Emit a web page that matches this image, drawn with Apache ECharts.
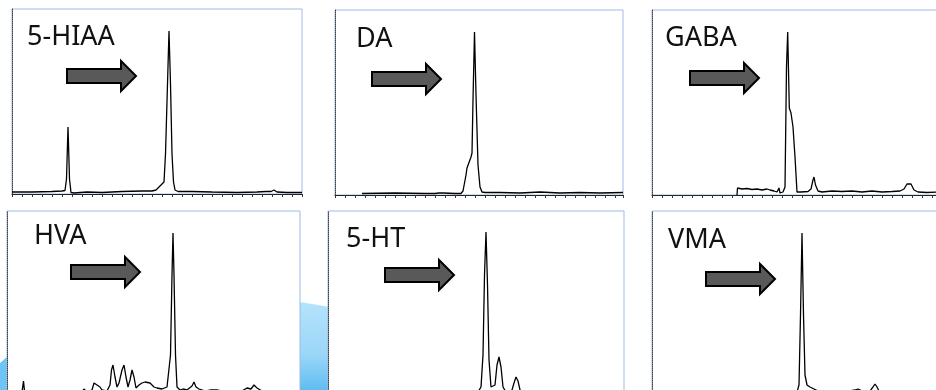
<!DOCTYPE html>
<html>
<head>
<meta charset="utf-8">
<script src="https://cdn.jsdelivr.net/npm/echarts@6/dist/echarts.min.js"></script>
<style>
  html, body { margin: 0; padding: 0; background: #fff; }
  #main { width: 936px; height: 390px; }
</style>
</head>
<body>
<div id="main"></div>
<script>
// compound names, one per panel
const compounds = ['5-HIAA', 'DA', 'GABA', 'HVA', '5-HT', 'VMA'];

// traces: [retention position, signal height]
const hiaaTrace = [
  [0, 2], [20, 2], [40, 2.5], [50, 3], [53, 3.5], [54.5, 15], [55.5, 50], [56, 67], [56.5, 50], [57.5, 15],
  [59, 1.5], [62, 1], [75, 2], [90, 1.5], [110, 2.5], [130, 3], [140, 3], [144, 4], [146, 6], [148, 8],
  [150, 9], [152, 12], [153.5, 40], [155.5, 110], [157, 163], [158.5, 110], [160, 40], [161.5, 12],
  [163, 4], [166, 2.5], [180, 2.5], [200, 2], [225, 1.5], [245, 2], [254, 2.5], [256, 4], [259, 2.5],
  [262, 4], [265, 2], [275, 1.5], [290, 1.5]
];
const daTrace = [
  [27, 1.5], [60, 2], [90, 1.5], [100, 1.5], [104, 2], [106, 4], [108, 2], [120, 1.5], [126, 1.5],
  [128, 4], [131, 20], [132, 27], [134, 29], [136, 38], [137, 42], [138, 95], [139.5, 163], [141, 100],
  [143, 30], [145, 8], [147, 3], [150, 2.5], [165, 2.5], [185, 2], [205, 3], [225, 2], [245, 2.5],
  [265, 2], [288, 2.5]
];
const gabaTrace = [
  [85, 0], [85.5, 7], [90, 6], [95, 6.5], [100, 5.5], [105, 6], [110, 5], [115, 6], [117, 8], [118, 5],
  [122, 4], [125, 3], [127, 7], [128, 2], [131, 3], [133, 8], [134.5, 128], [135.7, 163], [137.3, 87],
  [139, 82], [141, 68], [143, 38], [145, 3], [149, 3], [156, 3.5], [159, 6], [161, 15], [162, 18],
  [163.5, 10], [166, 4], [170, 3], [180, 4], [190, 3.5], [200, 4], [210, 3], [220, 4], [230, 3],
  [240, 3.5], [248, 4], [252, 6], [255, 11], [257, 13], [259, 11], [262, 5], [266, 3], [275, 2.5],
  [285, 3], [290, 3]
];
const hvaTrace = [
  [0, 2], [15, 3], [16.5, 14], [17.5, 4], [20, 2], [40, 2], [60, 2.5], [75, 3], [77, 6], [80, 3],
  [85, 5], [87, 12], [90, 10], [93, 8], [95, 5], [100, 4], [103, 10], [104.5, 25], [106, 30], [108, 18],
  [110, 8], [112, 12], [115, 25], [117, 30], [119, 18], [121, 8], [123, 15], [125, 25], [127, 18],
  [129, 7], [132, 10], [135, 12], [138, 13], [140, 14], [143, 12], [145, 13], [147, 8], [150, 7],
  [155, 6], [157, 7], [160, 8], [163.5, 40], [165, 120], [166, 162], [167, 120], [168.5, 40],
  [170, 8], [173, 5], [176, 6], [180, 5], [185, 9], [187, 13], [189, 8], [192, 6], [198, 4], [204, 5],
  [210, 5], [220, 3], [235, 4], [240, 7], [244, 6], [247, 10], [250, 7], [255, 4], [270, 3], [292, 3]
];
const htTrace = [
  [0, 2], [40, 2], [80, 2], [120, 2], [145, 2], [150, 3], [153, 8], [155, 40], [156.5, 120], [158, 163],
  [159.5, 110], [161, 35], [163, 8], [165, 6], [167, 10], [169, 30], [171, 38], [173, 28], [175, 8],
  [178, 3], [181, 2], [184, 5], [186, 12], [188, 18], [190, 14], [192, 5], [195, 2], [220, 2],
  [260, 2], [296, 2]
];
const vmaTrace = [
  [0, 2], [50, 2], [100, 2], [140, 2], [145, 3], [147, 10], [148.5, 80], [150, 162], [151.5, 80],
  [153, 20], [155, 10], [158, 8], [162, 6], [166, 4], [175, 3], [190, 3], [203, 5], [206, 6], [210, 4],
  [218, 4], [221, 8], [223, 11], [225, 8], [227, 4], [235, 3], [260, 2], [290, 2]
];
const traces = [hiaaTrace, daTrace, gabaTrace, hvaTrace, htTrace, vmaTrace];

// panel placement on the slide
const panels = [
  { left: 12,  top: 9,   width: 290, height: 185, label: [27, 37],   arrow: [67, 76] },
  { left: 335, top: 10,  width: 288, height: 185, label: [356, 39],  arrow: [372, 79] },
  { left: 652, top: 10,  width: 290, height: 185, label: [665, 38],  arrow: [690, 78] },
  { left: 7,   top: 211, width: 293, height: 184, label: [34, 236],  arrow: [71, 272] },
  { left: 328, top: 211, width: 296, height: 184, label: [346, 239], arrow: [385, 275] },
  { left: 652, top: 211, width: 290, height: 184, label: [668, 240], arrow: [706, 279] }
];

function arrowPoints(x0, cy) {
  return [[x0, cy - 7], [x0 + 54, cy - 7], [x0 + 54, cy - 15], [x0 + 69, cy],
          [x0 + 54, cy + 15], [x0 + 54, cy + 7], [x0, cy + 7]];
}

const chart = echarts.init(document.getElementById('main'));

const grids = [], xAxes = [], yAxes = [], series = [], graphics = [];

// light blue slide background peeking between the panels
graphics.push({
  type: 'polygon', z: -10, silent: true,
  shape: { points: [[300, 302], [330, 307], [330, 390], [300, 390]] },
  style: { fill: new echarts.graphic.LinearGradient(0, 0, 0, 1, [
    { offset: 0, color: '#b5e3fb' }, { offset: 0.6, color: '#9ad6f8' }, { offset: 1, color: '#5fbdf0' }
  ]) }
});
graphics.push({
  type: 'polygon', z: -10, silent: true,
  shape: { points: [[0, 363], [8, 356], [8, 390], [0, 390]] },
  style: { fill: '#6cc5f2' }
});

panels.forEach((p, i) => {
  grids.push({
    left: p.left, top: p.top, width: p.width, height: p.height,
    outerBoundsMode: 'none',
    show: true, backgroundColor: '#fff', borderColor: '#9dbbe8', borderWidth: 1
  });
  xAxes.push({
    gridIndex: i, type: 'value', min: 0, max: p.width, interval: 10,
    axisLine: { show: true, onZero: false, lineStyle: { color: '#222', width: 1 } },
    axisTick: { show: true, length: 3, lineStyle: { color: '#333' } },
    axisLabel: { show: false }, splitLine: { show: false }
  });
  yAxes.push({
    gridIndex: i, type: 'value', min: 0, max: p.height,
    axisLine: { show: true, lineStyle: { color: '#444', type: [1, 1], width: 1 } },
    axisTick: { show: false }, axisLabel: { show: false }, splitLine: { show: false }
  });
  series.push({
    type: 'line', xAxisIndex: i, yAxisIndex: i, data: traces[i],
    showSymbol: false, symbol: 'none', silent: true,
    lineStyle: { color: '#000', width: 1.3 }
  });
  graphics.push({
    type: 'text', z: 50,
    style: {
      text: compounds[i], x: p.label[0], y: p.label[1],
      fill: '#111', fontSize: 27, fontFamily: '"Noto Sans", sans-serif', verticalAlign: 'middle'
    }
  });
  graphics.push({
    type: 'polygon', z: 50,
    shape: { points: arrowPoints(p.arrow[0], p.arrow[1]) },
    style: { fill: '#595959', stroke: '#000', lineWidth: 2, lineJoin: 'miter' }
  });
});

chart.setOption({
  animation: false,
  grid: grids,
  xAxis: xAxes,
  yAxis: yAxes,
  series: series,
  graphic: graphics
});
</script>
</body>
</html>
